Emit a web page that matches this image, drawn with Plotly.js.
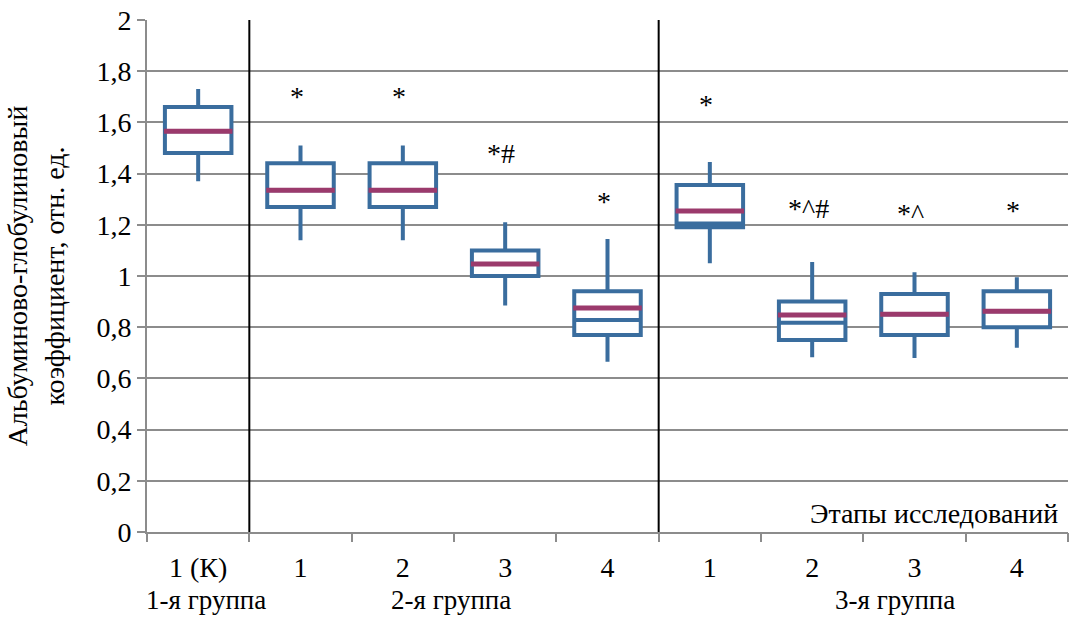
<!DOCTYPE html>
<html>
<head>
<meta charset="utf-8">
<script src="https://cdn.plot.ly/plotly-3.0.1.min.js"></script>
<style>html,body{margin:0;padding:0;background:#fff;}#chart{width:1072px;height:619px;}</style>
</head>
<body>
<div id="chart"></div>
<script>
// ---- data ----
const categories = ["1 (К)", "1", "2", "3", "4", "1", "2", "3", "4"];
const groups = ["1-я группа", "2-я группа", "3-я группа"];
const upper  = [1.73, 1.51, 1.51, 1.21, 1.145, 1.445, 1.055, 1.015, 0.995];
const q3     = [1.66, 1.44, 1.44, 1.10, 0.94, 1.355, 0.90, 0.93, 0.94];
const median = [1.565, 1.335, 1.335, 1.047, 0.875, 1.254, 0.848, 0.851, 0.862];
const inner  = [1.565, 1.335, 1.335, 1.047, 0.828, 1.205, 0.817, 0.851, 0.862];
const q1     = [1.48, 1.27, 1.27, 1.00, 0.77, 1.19, 0.75, 0.77, 0.80];
const lower  = [1.37, 1.14, 1.14, 0.885, 0.665, 1.05, 0.683, 0.68, 0.72];
const marks  = ["", "*", "*", "*#", "*", "*", "*^#", "*^", "*"];
const markY  = [null, 1.72, 1.72, 1.50, 1.31, 1.69, 1.285, 1.262, 1.277];
const yTicks = [0, 0.2, 0.4, 0.6, 0.8, 1, 1.2, 1.4, 1.6, 1.8, 2];
const axisNote = "Этапы исследований";
const yTitle = "Альбуминово-глобулиновый<br>коэффициент, отн. ед.";

const BLUE = "#3a6d9e", MAG = "#9b3a6c", GRID = "#8c8c8c";
const FONT = "Liberation Serif, Times New Roman, serif";
const FS = 28;
const pos = categories.map((c, i) => i);
const half = 0.335;

const boxTrace = {
  type: "box", x: pos, q1: q1, median: inner, q3: q3,
  lowerfence: lower, upperfence: upper,
  width: 0.65, whiskerwidth: 0, boxpoints: false,
  line: {color: BLUE, width: 4}, fillcolor: "#ffffff",
  hoverinfo: "skip", showlegend: false
};

const mx = [], my = [];
median.forEach((m, i) => { mx.push(i - half, i + half, null); my.push(m, m, null); });
const medTrace = {type: "scatter", mode: "lines", x: mx, y: my,
  line: {color: MAG, width: 5}, hoverinfo: "skip", showlegend: false};

const annotations = [];
marks.forEach((t, i) => {
  if (!t) return;
  annotations.push({x: i, y: markY[i], xref: "x", yref: "y", text: t, showarrow: false,
    xanchor: "center", yanchor: "middle", xshift: -4, yshift: -5,
    font: {family: FONT, size: FS, color: "#000"}});
});
const groupX = [0.08, 2.47, 6.81];
groups.forEach((g, i) => annotations.push({x: groupX[i], y: 0, xref: "x", yref: "paper",
  yshift: -85, text: g, showarrow: false, xanchor: "center", yanchor: "bottom",
  font: {family: FONT, size: 27, color: "#000"}}));
annotations.push({x: 0.991, y: 0.074, xref: "paper", yref: "y", text: axisNote, showarrow: false,
  xanchor: "right", yanchor: "middle", font: {family: FONT, size: FS, color: "#000"}});

const shapes = [0.5, 4.5].map(v => ({type: "line", xref: "x", yref: "y", x0: v, x1: v, y0: 0, y1: 2,
  line: {color: "#000", width: 2}}));

const layout = {
  width: 1072, height: 619,
  margin: {l: 147, r: 4, t: 20, b: 87},
  paper_bgcolor: "#fff", plot_bgcolor: "#fff",
  separators: ", ",
  font: {family: FONT, size: FS, color: "#000"},
  xaxis: {range: [-0.5, 8.5], tickmode: "array", tickvals: pos, ticktext: categories,
    ticks: "", showgrid: false, zeroline: false, showline: true, linecolor: GRID, linewidth: 2,
    ticklabelstandoff: 9, tickfont: {family: FONT, size: FS, color: "#000"}, fixedrange: true},
  xaxis2: {range: [-0.5, 8.5], overlaying: "x", anchor: "y", side: "bottom",
    tickmode: "array", tickvals: [-0.5, 0.5, 1.5, 2.5, 3.5, 4.5, 5.5, 6.5, 7.5, 8.5],
    ticks: "outside", ticklen: 9, tickwidth: 2, tickcolor: GRID, showticklabels: false,
    showgrid: false, zeroline: false, showline: false},
  yaxis: {range: [0, 2], tickmode: "array", tickvals: yTicks, showgrid: true, gridcolor: GRID, gridwidth: 2,
    zeroline: false, showline: true, linecolor: GRID, linewidth: 2,
    ticks: "outside", ticklen: 8, tickwidth: 2, tickcolor: GRID,
    tickfont: {family: FONT, size: FS, color: "#000"},
    title: {text: yTitle, standoff: 24, font: {family: FONT, size: FS, color: "#000"}}},
  annotations: annotations, shapes: shapes, showlegend: false
};

const dummy = {type: "scatter", x: [], y: [], xaxis: "x2", yaxis: "y", hoverinfo: "skip", showlegend: false};
Plotly.newPlot("chart", [boxTrace, medTrace, dummy], layout, {staticPlot: true, displayModeBar: false});
</script>
</body>
</html>
